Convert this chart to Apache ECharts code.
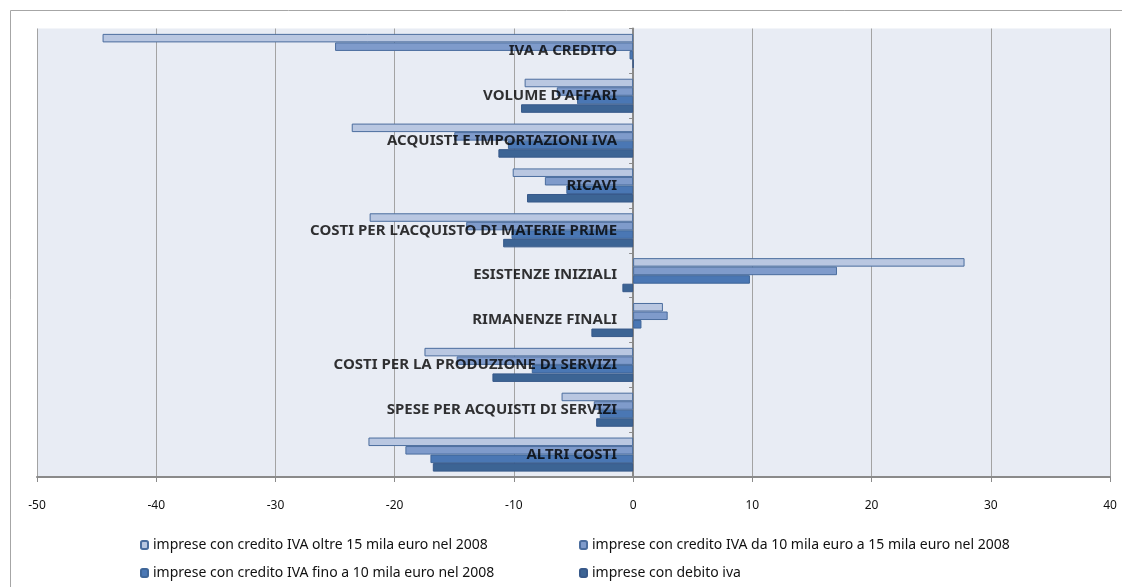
<!DOCTYPE html>
<html>
<head>
<meta charset="utf-8">
<style>
  html, body { margin: 0; padding: 0; background: #ffffff; }
  #chart { width: 1122px; height: 587px; }
</style>
<script src="https://cdn.jsdelivr.net/npm/echarts@6/dist/echarts.min.js"></script>
</head>
<body>
<div id="chart"></div>
<script>
// Voci di bilancio (dall'alto verso il basso)
const categories = [
  "IVA A CREDITO",
  "VOLUME D'AFFARI",
  "ACQUISTI E IMPORTAZIONI IVA",
  "RICAVI",
  "COSTI PER L'ACQUISTO DI MATERIE PRIME",
  "ESISTENZE INIZIALI",
  "RIMANENZE FINALI",
  "COSTI PER LA PRODUZIONE DI SERVIZI",
  "SPESE PER ACQUISTI DI SERVIZI",
  "ALTRI COSTI"
];

const seriesNames = [
  "imprese con credito IVA oltre 15 mila euro nel 2008",
  "imprese con credito IVA da 10 mila euro a 15 mila euro nel 2008",
  "imprese con credito IVA fino a 10 mila euro nel 2008",
  "imprese con debito iva"
];

// Variazioni percentuali per gruppo di imprese
const oltre15 = [-44.5, -9.1, -23.6, -10.1, -22.1, 27.8, 2.5, -17.5, -6.0, -22.2];
const da10a15 = [-25.0, -6.4, -15.0, -7.4, -14.0, 17.1, 2.9, -14.8, -3.3, -19.1];
const fino10  = [-0.3, -4.7, -10.5, -5.6, -10.2, 9.8, 0.7, -8.5, -2.8, -17.0];
const debito  = [0, -9.4, -11.3, -8.9, -10.9, -0.9, -3.5, -11.8, -3.1, -16.8];

const xMin = -50, xMax = 40, xStep = 10;

const fills = ['#b9c7e1', '#7f9bcb', '#4a77b4', '#3c6494'];
const borders = ['#4b6d9e', '#4b6d9e', '#3f6699', '#37598a'];
const values = [oltre15, da10a15, fino10, debito];

const font = '"Noto Sans", "Liberation Sans", sans-serif';

const chart = echarts.init(document.getElementById('chart'), null, { renderer: 'canvas' });

const barSeries = values.map((v, i) => ({
  type: 'bar',
  name: seriesNames[i],
  data: v,
  barGap: '0%',
  barCategoryGap: '24%',
  itemStyle: { color: fills[i], borderColor: borders[i], borderWidth: 1 }
}));

// Nomi delle voci scritti accanto all'asse dello zero, sopra le barre
const categoryLabels = {
  type: 'scatter',
  name: 'voci',
  symbolSize: 0,
  silent: true,
  z: 20,
  data: categories.map(c => [0, c]),
  label: {
    show: true,
    position: 'left',
    distance: 16,
    formatter: p => p.value[1],
    fontFamily: font, fontSize: 15, fontWeight: 'bold', color: '#000000',
    textBorderWidth: 0, textBorderColor: 'transparent', textShadowBlur: 0
  },
  labelLayout: { hideOverlap: false }
};

const legendText = { fontFamily: font, fontSize: 14, color: '#111111' };

const option = {
  backgroundColor: '#ffffff',
  animation: false,
  graphic: [{
    type: 'rect',
    silent: true,
    z: -10,
    shape: { x: 10.5, y: 10.5, width: 1130, height: 600 },
    style: { fill: 'none', stroke: '#a6a6a6', lineWidth: 1 }
  }],
  grid: {
    left: 37, right: 12, top: 28.5, bottom: 110,
    show: true, backgroundColor: '#e8ecf4', borderWidth: 0,
    containLabel: false,
    outerBoundsMode: 'none'
  },
  legend: [
    {
      left: 135, top: 533, height: 80, orient: 'vertical',
      itemWidth: 7, itemHeight: 8, itemGap: 14,
      data: [seriesNames[0], seriesNames[2]],
      textStyle: legendText
    },
    {
      left: 574, top: 533, height: 80, orient: 'vertical',
      itemWidth: 7, itemHeight: 8, itemGap: 14,
      data: [seriesNames[1], seriesNames[3]],
      textStyle: legendText
    }
  ],
  xAxis: {
    type: 'value',
    min: xMin, max: xMax, interval: xStep,
    axisLine: { show: true, onZero: false, lineStyle: { color: '#8a8a8a', width: 2 } },
    axisTick: { show: true, length: 5, lineStyle: { color: '#8a8a8a' } },
    axisLabel: { fontFamily: font, fontSize: 12, color: '#111111', margin: 23 },
    splitLine: { show: true, lineStyle: { color: '#a3a3a3', width: 1 } }
  },
  yAxis: {
    type: 'category',
    data: categories,
    inverse: true,
    axisLine: { show: true, onZero: true, lineStyle: { color: '#8a8a8a', width: 2 } },
    axisTick: { show: true, length: 4, lineStyle: { color: '#8a8a8a' } },
    axisLabel: { show: false },
    splitLine: { show: false }
  },
  series: barSeries.concat([categoryLabels])
};

chart.setOption(option);
</script>
</body>
</html>
